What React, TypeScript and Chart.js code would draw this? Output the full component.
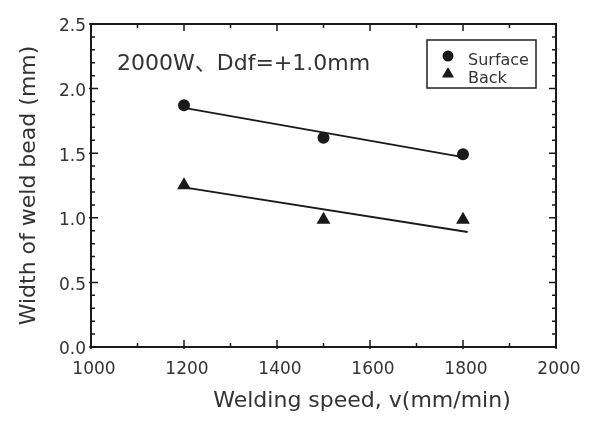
import React, { useEffect, useRef } from 'react';
import { Chart, registerables } from 'chart.js';

Chart.register(...registerables);

// ---- data ----
const speeds = [1200, 1500, 1800];
const surfaceWidth = [1.871, 1.619, 1.492];
const backWidth = [1.251, 0.985, 0.985];

const surfaceFitSpeeds = [1200, 1800];
const surfaceFitWidth = [1.851, 1.469];
const backFitSpeeds = [1200, 1810];
const backFitWidth = [1.235, 0.89];

const seriesLabels = ['Surface', 'Back'];
const annotationText = '2000W、Ddf=+1.0mm';
const xTitle = 'Welding speed, v(mm/min)';
const yTitle = 'Width of weld bead (mm)';

const xMin = 1000;
const xMax = 2000;
const xMajorStep = 200;
const xMinorStep = 100;
const yMin = 0;
const yMax = 2.5;
const yMajorStep = 0.5;
const yMinorStep = 0.1;

const FONT = "'DejaVu Sans', 'Noto Sans CJK SC', sans-serif";
const TEXT = '#333';
const INK = '#1a1a1a';

const toPoints = (xs: number[], ys: number[]) => xs.map((x, i) => ({ x, y: ys[i] }));

const isMultiple = (v: number, start: number, step: number) => {
  const k = (v - start) / step;
  return Math.abs(k - Math.round(k)) < 1e-6;
};

const decor = {
  id: 'decor',
  afterDraw(chart: any) {
    const { ctx, chartArea: a, scales } = chart;
    const x = scales.x;
    const y = scales.y;
    ctx.save();
    // frame
    ctx.strokeStyle = INK;
    ctx.lineWidth = 2;
    ctx.strokeRect(a.left, a.top, a.right - a.left, a.bottom - a.top);
    // ticks
    ctx.lineWidth = 1.5;
    const nx = Math.round((xMax - xMin) / xMinorStep);
    for (let i = 0; i <= nx; i++) {
      const v = xMin + i * xMinorStep;
      const px = x.getPixelForValue(v);
      const major = isMultiple(v, xMin, xMajorStep);
      const len = major ? 7 : 4;
      ctx.beginPath();
      ctx.moveTo(px, a.bottom + (major ? 2 : 0));
      ctx.lineTo(px, a.bottom - len);
      ctx.moveTo(px, a.top);
      ctx.lineTo(px, a.top + len);
      ctx.stroke();
    }
    const ny = Math.round((yMax - yMin) / yMinorStep);
    for (let i = 0; i <= ny; i++) {
      const v = yMin + i * yMinorStep;
      const py = y.getPixelForValue(v);
      const major = isMultiple(v, yMin, yMajorStep);
      const len = major ? 7 : 4;
      ctx.beginPath();
      ctx.moveTo(a.left - (major ? 2 : 0), py);
      ctx.lineTo(a.left + len, py);
      ctx.moveTo(a.right, py);
      ctx.lineTo(a.right - len, py);
      ctx.stroke();
    }

    // annotation
    ctx.fillStyle = TEXT;
    ctx.textAlign = 'left';
    ctx.textBaseline = 'alphabetic';
    ctx.font = `22px ${FONT}`;
    ctx.fillText(annotationText, a.left + 26, a.top + 46);

    // x title
    ctx.textAlign = 'center';
    ctx.font = `22px ${FONT}`;
    ctx.fillText(xTitle, 362, 407);

    // legend
    const lx = 427, ly = 40, lw = 109, lh = 48;
    ctx.strokeStyle = '#222';
    ctx.lineWidth = 1.5;
    ctx.strokeRect(lx, ly, lw, lh);
    ctx.fillStyle = INK;
    ctx.beginPath();
    ctx.arc(lx + 21, ly + 16, 5.5, 0, Math.PI * 2);
    ctx.fill();
    const tr = 7;
    const tcx = lx + 21, tcy = ly + 34;
    ctx.beginPath();
    ctx.moveTo(tcx, tcy - tr);
    ctx.lineTo(tcx + tr * 0.866, tcy + tr / 2);
    ctx.lineTo(tcx - tr * 0.866, tcy + tr / 2);
    ctx.closePath();
    ctx.fill();
    ctx.fillStyle = TEXT;
    ctx.textAlign = 'left';
    ctx.font = `16px ${FONT}`;
    ctx.fillText(seriesLabels[0], lx + 41, ly + 25);
    ctx.fillText(seriesLabels[1], lx + 41, ly + 43);
    ctx.restore();
  },
};

export default function App() {
  const ref = useRef<HTMLCanvasElement | null>(null);

  useEffect(() => {
    if (!ref.current) return;
    const chart = new Chart(ref.current, {
      type: 'scatter',
      data: {
        datasets: [
          {
            label: seriesLabels[0],
            data: toPoints(speeds, surfaceWidth),
            pointStyle: 'circle',
            pointRadius: 6,
            backgroundColor: INK,
            borderColor: INK,
            borderWidth: 0,
            showLine: false,
          },
          {
            label: seriesLabels[1],
            data: toPoints(speeds, backWidth),
            pointStyle: 'triangle',
            pointRadius: 8,
            backgroundColor: INK,
            borderColor: INK,
            borderWidth: 0,
            showLine: false,
          },
          {
            label: 'Surface fit',
            data: toPoints(surfaceFitSpeeds, surfaceFitWidth),
            showLine: true,
            pointRadius: 0,
            borderColor: INK,
            borderWidth: 1.8,
          },
          {
            label: 'Back fit',
            data: toPoints(backFitSpeeds, backFitWidth),
            showLine: true,
            pointRadius: 0,
            borderColor: INK,
            borderWidth: 1.8,
          },
        ],
      },
      options: {
        responsive: false,
        animation: false,
        layout: { padding: { top: 24, right: 51, left: 0, bottom: 0 } },
        plugins: {
          legend: { display: false },
          tooltip: { enabled: false },
        },
        scales: {
          x: {
            type: 'linear',
            min: xMin,
            max: xMax,
            grid: { display: false, drawTicks: false },
            border: { display: false },
            ticks: {
              stepSize: xMajorStep,
              color: TEXT,
              font: { family: FONT, size: 17 },
              padding: 12,
              labelOffset: 3,
              maxRotation: 0,
              callback: (v: any) => String(v),
            },
            afterFit: (s: any) => {
              s.height = 77;
            },
          },
          y: {
            type: 'linear',
            min: yMin,
            max: yMax,
            grid: { display: false, drawTicks: false },
            border: { display: false },
            ticks: {
              stepSize: yMajorStep,
              color: TEXT,
              font: { family: FONT, size: 17 },
              padding: 5,
              labelOffset: 3,
              callback: (v: any) => Number(v).toFixed(1),
            },
            title: {
              display: true,
              text: yTitle,
              color: TEXT,
              font: { family: FONT, size: 22, weight: 'normal' },
              padding: { top: 16, bottom: 0 },
            },
            afterFit: (s: any) => {
              s.width = 91;
            },
          },
        },
      },
      plugins: [decor],
    } as any);
    return () => chart.destroy();
  }, []);

  return (
    <div style={{ position: 'absolute', left: 0, top: 0, width: 607, height: 424, background: '#fff' }}>
      <canvas ref={ref} width={607} height={424} style={{ display: 'block' }} />
    </div>
  );
}
